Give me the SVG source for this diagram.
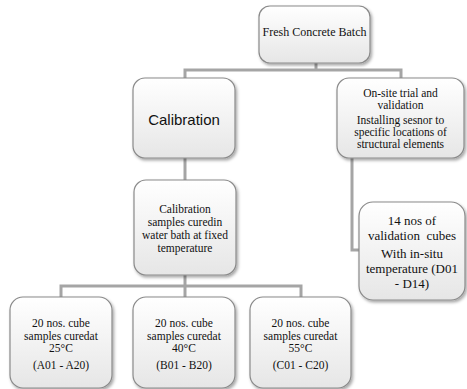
<svg xmlns="http://www.w3.org/2000/svg" width="467" height="389" viewBox="0 0 467 389">
<defs>
<linearGradient id="g" x1="0" y1="0" x2="0" y2="1">
<stop offset="0" stop-color="#ffffff"/>
<stop offset="1" stop-color="#e6e6e6"/>
</linearGradient>
<filter id="sh" x="-10%" y="-10%" width="130%" height="130%">
<feDropShadow dx="1.5" dy="2" stdDeviation="1.5" flood-color="#000" flood-opacity="0.35"/>
</filter>
</defs>
<style>
.box{fill:url(#g);stroke:#8a8a8a;stroke-width:1.2;filter:url(#sh)}
.t{font-family:"Liberation Serif",serif;font-size:11.5px;fill:#111;text-anchor:middle}
.v{font-size:13px}
.s{font-family:"Liberation Sans",sans-serif;font-size:15px;fill:#111;text-anchor:middle}
.c{fill:none;stroke:#a5a5a5;stroke-width:3}
</style>
<rect width="467" height="389" fill="#fff"/>
<g id="connectors">
<path class="c" d="M316 63 V70 M185 78 V70 H401 V78"/>
<path class="c" d="M185 158 V180"/>
<path class="c" d="M185 275 V286 M61 297 V286 H301 V297 M185 286 V297"/>
<path class="c" d="M352 158 V250 H359"/>
</g>
<g id="root">
<rect class="box" x="259" y="6" width="111" height="57" rx="11"/>
<text class="t" x="314.5" y="36" style="font-size:12px">Fresh Concrete Batch</text>
</g>
<g id="calibration">
<rect class="box" x="133" y="78" width="102" height="80" rx="12"/>
<text class="s" x="184" y="125">Calibration</text>
</g>
<g id="onsite">
<rect class="box" x="337" y="78" width="127" height="80" rx="12"/>
<text class="t" x="400.5" y="97">On-site trial and</text>
<text class="t" x="400.5" y="109">validation</text>
<text class="t" x="400.5" y="124">Installing sesnor to</text>
<text class="t" x="400.5" y="136">specific locations of</text>
<text class="t" x="400.5" y="148">structural elements</text>
</g>
<g id="samples">
<rect class="box" x="134" y="180" width="102" height="95" rx="12"/>
<text class="t" x="185" y="213">Calibration</text>
<text class="t" x="185" y="226">samples curedin</text>
<text class="t" x="185" y="239">water bath at fixed</text>
<text class="t" x="185" y="252">temperature</text>
</g>
<g id="validation">
<rect class="box" x="359" y="202" width="106" height="98" rx="14"/>
<text class="t v" x="412" y="225">14 nos of</text>
<text class="t v" x="412" y="240" xml:space="preserve" style="white-space:pre">validation  cubes</text>
<text class="t v" x="412" y="258">With in-situ</text>
<text class="t v" x="412" y="273">temperature (D01</text>
<text class="t v" x="412" y="288">- D14)</text>
</g>
<g id="boxA">
<rect class="box" x="10" y="297" width="102" height="91" rx="13"/>
<text class="t" x="61" y="327">20 nos. cube</text>
<text class="t" x="61" y="340">samples curedat</text>
<text class="t" x="61" y="352">25°C</text>
<text class="t" x="61" y="369">(A01 - A20)</text>
</g>
<g id="boxB">
<rect class="box" x="133" y="297" width="102" height="91" rx="13"/>
<text class="t" x="184" y="327">20 nos. cube</text>
<text class="t" x="184" y="340">samples curedat</text>
<text class="t" x="184" y="352">40°C</text>
<text class="t" x="184" y="369">(B01 - B20)</text>
</g>
<g id="boxC">
<rect class="box" x="250" y="297" width="101" height="91" rx="13"/>
<text class="t" x="300.5" y="327">20 nos. cube</text>
<text class="t" x="300.5" y="340">samples curedat</text>
<text class="t" x="300.5" y="352">55°C</text>
<text class="t" x="300.5" y="369">(C01 - C20)</text>
</g>
</svg>
